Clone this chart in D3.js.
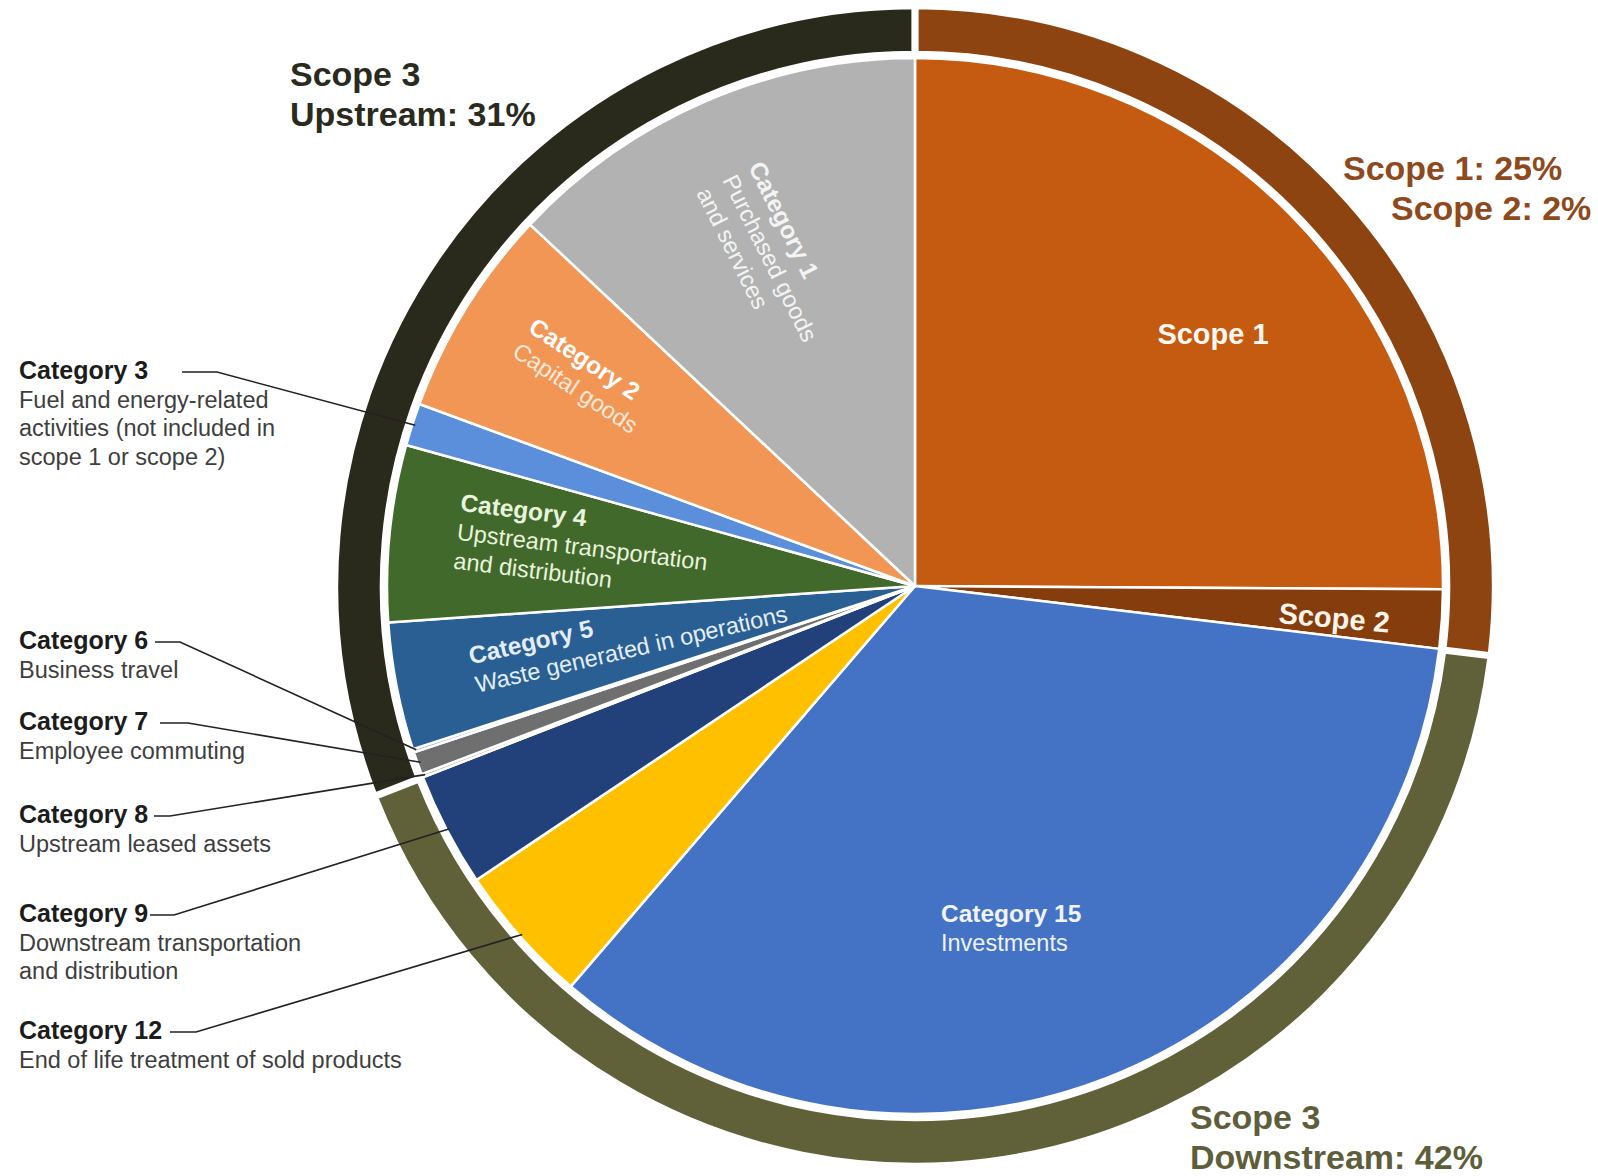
<!DOCTYPE html>
<html><head><meta charset="utf-8">
<script src="https://cdn.jsdelivr.net/npm/d3@7"></script>
<style>
html,body{margin:0;padding:0;background:#fff;}
svg{display:block;font-family:"Liberation Sans",Arial,Helvetica,sans-serif;}
</style>
</head><body>
<svg id="chart" width="1598" height="1176"></svg>
<script>
// ---------- DATA ----------
const categories = ["Scope 1","Scope 2","Category 15","Category 12","Category 9","Category 8","Category 7","Category 6","Category 5","Category 4","Category 3","Category 2","Category 1"];
const values     = [25.1, 1.8, 34.4, 4.3, 3.5, 0.1, 0.7, 0.1, 3.9, 5.4, 1.3, 6.4, 13.0];
const groupOf    = ["Scope 1 & 2","Scope 1 & 2","Downstream","Downstream","Downstream","Upstream","Upstream","Upstream","Upstream","Upstream","Upstream","Upstream","Upstream"];
const descriptions = {
  "Category 1": ["Purchased goods","and services"],
  "Category 2": ["Capital goods"],
  "Category 3": ["Fuel and energy-related","activities (not included in","scope 1 or scope 2)"],
  "Category 4": ["Upstream transportation","and distribution"],
  "Category 5": ["Waste generated in operations"],
  "Category 6": ["Business travel"],
  "Category 7": ["Employee commuting"],
  "Category 8": ["Upstream leased assets"],
  "Category 9": ["Downstream transportation","and distribution"],
  "Category 12": ["End of life treatment of sold products"],
  "Category 15": ["Investments"]
};
const ringGroups = ["Scope 1 & 2","Downstream","Upstream"];
const ringTitles = {
  "Scope 1 & 2": ["Scope 1: 25%","Scope 2: 2%"],
  "Upstream": ["Scope 3","Upstream: 31%"],
  "Downstream": ["Scope 3","Downstream: 42%"]
};

// ---------- STYLE / LAYOUT ----------
const sliceColors = {
  "Scope 1":"#C55A11","Scope 2":"#863D0D","Category 15":"#4472C4","Category 12":"#FFC000",
  "Category 9":"#22407A","Category 8":"#A5A5A5","Category 7":"#6F6F6F","Category 6":"#9DB7D8",
  "Category 5":"#2A5F94","Category 4":"#41692B","Category 3":"#5B8EDB","Category 2":"#F29656","Category 1":"#B2B2B2"
};
const ringColors = {"Scope 1 & 2":"#8E4410","Downstream":"#606039","Upstream":"#2A2A1C"};
const ringTextColors = {"Scope 1 & 2":"#8E4A1C","Downstream":"#5E5E3A","Upstream":"#2A2A1E"};

const cx = 915, cy = 586;
const pieR = 528, ringIn = 534, ringOut = 578;

const svg = d3.select("#chart");
const g = svg.append("g").attr("transform", `translate(${cx},${cy})`);

const data = categories.map((c,i)=>({name:c, value:values[i], group:groupOf[i]}));
const pie = d3.pie().sort(null).value(d=>d.value);
const arcs = pie(data);
const arc = d3.arc().innerRadius(0).outerRadius(pieR);

// ring data from sums
const ringData = ringGroups.map(gname=>({name:gname, value:d3.sum(data.filter(d=>d.group===gname), d=>d.value)}));
const ringArcs = d3.pie().sort(null).value(d=>d.value).padAngle(0.006)(ringData);
const ringArc = d3.arc().innerRadius(ringIn).outerRadius(ringOut);

g.selectAll("path.ring").data(ringArcs).join("path")
  .attr("class","ring").attr("d", ringArc)
  .attr("fill", d=>ringColors[d.data.name])
  .attr("stroke","#fff").attr("stroke-width",2.5);

g.selectAll("path.slice").data(arcs).join("path")
  .attr("class","slice").attr("d", arc)
  .attr("fill", d=>sliceColors[d.data.name])
  .attr("stroke","#fff").attr("stroke-width",2.5).attr("stroke-linejoin","round");

// ---------- Outer group titles ----------
const titlePos = {
  "Upstream": {x:290, y:86},
  "Scope 1 & 2": {x:[1343,1391], y:180},
  "Downstream": {x:1190, y:1129}
};
ringGroups.forEach(gname=>{
  const lines = ringTitles[gname];
  const p = titlePos[gname];
  lines.forEach((t,i)=>{
    svg.append("text")
      .attr("x", Array.isArray(p.x)? p.x[i] : p.x)
      .attr("y", p.y + i*40)
      .attr("font-size", 34).attr("font-weight","bold")
      .attr("fill", ringTextColors[gname])
      .text(t);
  });
});

// ---------- Inner labels ----------
function innerLabel(name, x, y, angle, boldColor, regColor){
  const lg = svg.append("g").attr("transform",`translate(${x},${y}) rotate(${angle})`);
  lg.append("text").attr("x",0).attr("y",18).attr("font-size",24.5).attr("font-weight","bold")
    .attr("fill",boldColor).text(name);
  (descriptions[name]||[]).forEach((t,i)=>{
    lg.append("text").attr("x",0).attr("y",18+29*(i+1)).attr("font-size",23.5)
      .attr("fill",regColor).text(t);
  });
}
innerLabel("Category 1", 764, 159, 63.5, "#F4F4F4", "#F4F4F4");
innerLabel("Category 2", 537, 316, 33.5, "#FFFFFF", "#FCE9DA");
innerLabel("Category 4", 462, 493, 7, "#E8F4DC", "#E8F4DC");
innerLabel("Category 5", 467, 647, -13, "#E4EEF9", "#E4EEF9");

// Category 15
svg.append("text").attr("x",941).attr("y",922).attr("font-size",24.5).attr("font-weight","bold")
  .attr("fill","#F0F4FB").text("Category 15");
svg.append("text").attr("x",941).attr("y",951).attr("font-size",23.5)
  .attr("fill","#EEF2FA").text(descriptions["Category 15"][0]);

// Scope 1 / Scope 2 inside
svg.append("text").attr("x",1213).attr("y",344).attr("text-anchor","middle")
  .attr("font-size",29).attr("font-weight","bold").attr("fill","#FFF8F0").text("Scope 1");
svg.append("g").attr("transform","translate(1278,623) rotate(5)")
  .append("text").attr("x",0).attr("y",0).attr("font-size",29).attr("font-weight","bold")
  .attr("fill","#FFF4EA").text("Scope 2");

// ---------- Left callout labels ----------
const callouts = [
  {name:"Category 3", y:379, lineX:182, knee:217},
  {name:"Category 6", y:649, lineX:155, knee:180},
  {name:"Category 7", y:730, lineX:160, knee:188},
  {name:"Category 8", y:823, lineX:154, knee:170},
  {name:"Category 9", y:922, lineX:150, knee:174},
  {name:"Category 12", y:1039, lineX:170, knee:196}
];
const leaderR = 525;
callouts.forEach(c=>{
  svg.append("text").attr("x",19).attr("y",c.y).attr("font-size",25).attr("font-weight","bold")
    .attr("fill","#1C1C1C").text(c.name);
  descriptions[c.name].forEach((t,i)=>{
    svg.append("text").attr("x",19).attr("y",c.y+28.5*(i+1)).attr("font-size",23.5)
      .attr("fill","#3E3E3E").text(t);
  });
  const a = arcs.find(d=>d.data.name===c.name);
  const mid = (a.startAngle + a.endAngle)/2;
  const ex = cx + leaderR*Math.sin(mid), ey = cy - leaderR*Math.cos(mid);
  const ly = c.y - 7;
  svg.append("polyline")
    .attr("points", `${c.lineX},${ly} ${c.knee},${ly} ${ex},${ey}`)
    .attr("fill","none").attr("stroke","#222").attr("stroke-width",1.6);
});
</script>
</body></html>
